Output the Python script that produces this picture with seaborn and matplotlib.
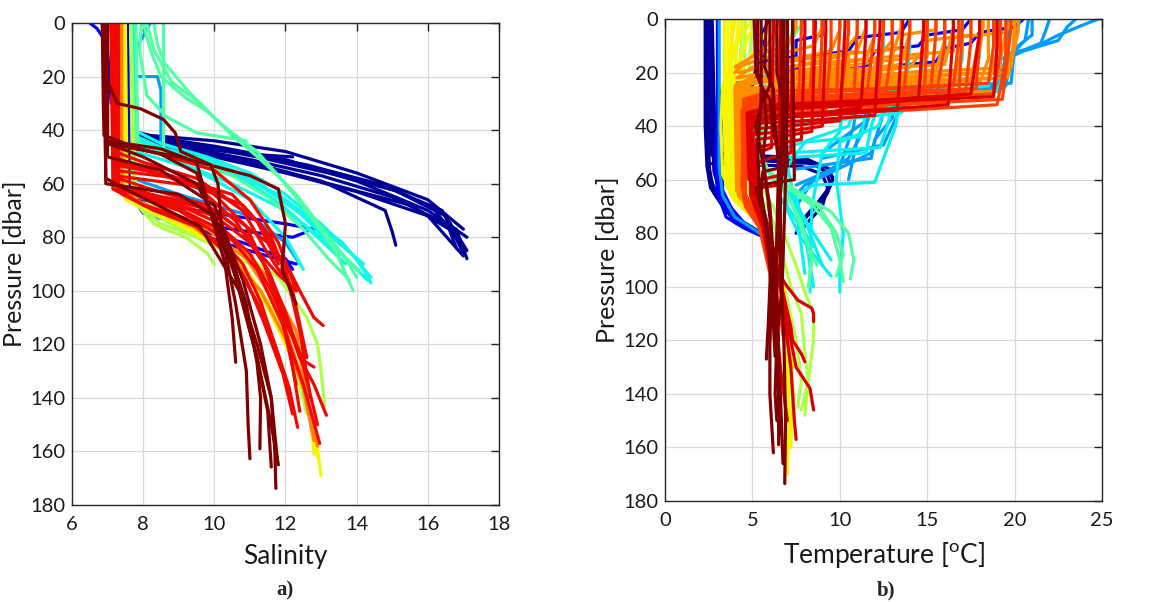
import matplotlib
matplotlib.use('Agg')
from matplotlib import pyplot as plt
import seaborn as sns
import pandas as pd

# ---------------- salinity profiles (salinity list, pressure list) ----------------
SAL_NAVY = [
    ([7.55, 7.6, 8.2, 10.0, 12.0, 14.0, 16.0, 17.0], [0, 40, 42, 44, 48, 56, 66, 77]),
    ([7.55, 7.6, 8.5, 10.0, 12.0, 14.0, 16.0, 17.1], [0, 41, 43, 46, 51, 59, 70, 80]),
    ([7.55, 7.6, 9.0, 11.0, 13.0, 15.0, 16.5, 17.1], [0, 42, 45, 49, 55, 62, 72, 85]),
    ([7.55, 7.6, 9.0, 11.0, 13.0, 15.0, 16.8, 17.1], [0, 42, 46, 51, 57, 65, 77, 88]),
    ([7.55, 7.6, 9.0, 11.0, 12.2], [0, 43, 46, 49, 50]),
    ([7.55, 7.6, 9.0, 11.0, 13.0, 14.8, 15.0, 15.1], [0, 43, 47, 52, 59, 70, 78, 83]),
    ([7.55, 7.6, 9.5, 11.5, 13.5, 15.5, 16.6, 16.8], [0, 44, 48, 54, 61, 68, 77, 84]),
    ([7.55, 7.6, 10.0, 12.0, 14.0, 16.0, 17.0], [0, 45, 50, 56, 63, 72, 87]),
    ([7.55, 7.6, 9.2, 11.2, 13.2, 15.2, 16.2, 16.9], [0, 42, 45, 50, 56, 63, 70, 82]),
    ([7.55, 7.6, 8.8, 10.6, 12.6, 14.6, 16.4, 17.0], [0, 41, 44, 48, 53, 60, 70, 86]),
]
SAL_BLUE = [
    ([7.55, 7.6, 8.0, 9.5, 11.0, 12.0, 12.8], [0, 60, 66, 70, 73, 75, 77]),
    ([7.55, 7.6, 8.2, 9.5, 11.0, 12.2, 12.6], [0, 62, 70, 75, 78, 80, 78]),
    ([7.55, 7.7, 8.2, 10.2, 11.5, 12.3], [0, 64, 70, 82, 87, 90]),
    ([7.5, 7.6, 8.0, 9.5, 10.8, 12.0, 12.2], [0, 63, 71, 77, 82, 88, 92]),
    ([6.5, 6.7, 6.85, 7.0, 7.1], [0, 2, 5, 10, 30]),
]
SAL_AZURE = [
    ([8.2, 7.75, 7.75, 8.4, 8.5, 8.5, 9.5], [0, 11, 20, 20, 25, 45, 50]),
    ([7.7, 7.7, 9.0, 11.0, 12.0, 12.4], [0, 58, 64, 72, 82, 90]),
]
SAL_CYAN = [
    ([7.7, 7.75, 8.5, 9.8, 11.0, 12.0, 13.0, 14.0, 14.4], [0, 40, 45, 50, 56, 64, 75, 88, 97]),
    ([7.7, 7.75, 8.6, 10.0, 11.2, 12.3, 13.3, 14.2], [0, 42, 47, 52, 60, 70, 80, 90]),
    ([7.7, 7.8, 9.0, 10.5, 11.8, 12.8, 13.6, 14.4], [0, 44, 50, 56, 64, 74, 82, 95]),
    ([7.7, 7.8, 9.0, 10.5, 12.0, 13.0, 13.5], [0, 45, 52, 60, 70, 80, 87]),
    ([7.7, 7.8, 9.5, 11.0, 12.0, 12.5], [0, 48, 55, 66, 80, 92]),
    ([7.75, 7.8, 8.8, 10.2, 11.4, 12.4, 13.4, 14.3], [0, 43, 48, 53, 61, 71, 84, 96]),
    ([7.75, 7.8, 9.3, 10.8, 11.9, 12.9, 13.7], [0, 46, 52, 58, 68, 80, 90]),
]
SAL_AQUA = [
    ([7.95, 7.9, 8.1, 8.65, 9.5, 10.9], [0, 10, 27, 35, 41, 44]),
    ([8.3, 8.4, 8.6, 9.3, 9.9, 10.3, 11.2, 12.0, 12.7, 13.5, 14.1], [0, 8, 15, 26, 34, 39, 48, 60, 72, 85, 93]),
    ([8.0, 8.2, 8.5, 9.2, 9.8, 10.8, 11.8, 12.6, 13.4, 13.9], [0, 10, 20, 28, 33, 45, 57, 70, 85, 100]),
    ([8.57, 8.57], [0, 48]),
    ([7.8, 7.85, 9.0, 10.5, 11.5, 12.5, 13.2, 13.8], [0, 45, 50, 57, 65, 77, 88, 96]),
    ([8.1, 8.3, 8.8, 9.6, 10.5, 11.4, 12.3, 13.1, 13.7, 14.0], [0, 10, 22, 30, 42, 52, 64, 78, 88, 95]),
]
SAL_GREEN = [
    ([7.65, 7.7, 8.3, 8.6, 9.2, 9.8, 10.0], [0, 66, 75, 77, 80, 86, 90]),
    ([7.65, 7.75, 8.5, 9.5, 10.8, 11.8, 12.6, 12.9, 13.0, 13.1], [0, 67, 75, 80, 86, 95, 110, 120, 130, 143]),
    ([7.65, 7.8, 9.5, 11.0, 11.8, 12.6], [0, 68, 80, 90, 105, 146]),
]
SAL_YELLOW = [
    ([7.45, 7.5, 8.5, 9.8, 10.8, 11.8, 12.4, 12.8, 13.0], [0, 65, 72, 80, 90, 110, 130, 150, 169]),
    ([7.45, 7.5, 8.4, 9.6, 10.6, 11.5, 12.2, 12.7, 12.8], [0, 64, 71, 78, 88, 105, 125, 145, 161]),
    ([7.45, 7.5, 8.8, 10.2, 11.2, 12.0, 12.5], [0, 66, 74, 84, 98, 120, 135]),
    ([7.5, 7.55, 8.3, 9.4, 10.4, 11.3, 12.0, 12.6, 12.9], [0, 65, 70, 77, 86, 100, 118, 138, 162]),
]
SAL_ORANGE = [
    ([7.35, 7.4, 8.5, 9.8, 10.9, 11.8, 12.4, 12.8], [0, 64, 70, 77, 88, 106, 130, 156]),
    ([7.35, 7.4, 9.0, 10.5, 11.5, 12.3, 12.6], [0, 63, 70, 80, 95, 115, 140]),
    ([7.4, 7.4, 8.2, 9.4, 10.4, 11.3, 12.0, 12.6, 12.9], [0, 64, 69, 76, 86, 100, 118, 140, 158]),
]
SAL_RED = [
    ([7.3, 7.3, 8.5, 10.0, 11.0, 11.8, 12.3], [0, 62, 66, 72, 82, 94, 100]),
    ([7.25, 7.25, 9.0, 10.5, 11.5, 12.1, 12.4, 12.8, 13.06], [0, 62, 66, 72, 82, 92, 100, 110, 113]),
    ([7.2, 7.25, 8.0, 10.0, 11.0, 11.6, 12.0, 12.4, 12.8, 13.15], [0, 61, 64, 70, 80, 95, 110, 125, 135, 146.5]),
    ([7.15, 7.2, 8.5, 10.0, 11.0, 11.6, 12.0, 12.3, 12.5, 12.8], [0, 60, 65, 74, 86, 100, 112, 120, 126, 128.5]),
    ([7.1, 7.15, 8.3, 9.5, 10.5, 11.2, 11.7, 12.1, 12.34], [0, 62, 70, 76, 88, 104, 120, 136, 151]),
    ([7.2, 7.25, 8.8, 10.3, 11.2, 11.9, 12.5, 12.96], [0, 61, 68, 78, 92, 112, 135, 157]),
    ([7.15, 7.2, 8.0, 9.5, 10.8, 11.5, 12.2], [0, 48, 52, 58, 70, 86, 100]),
    ([7.15, 7.2, 8.5, 10.0, 11.0, 11.8, 12.3], [0, 45, 49, 55, 66, 82, 100]),
    ([7.1, 7.2, 9.0, 10.5, 11.2, 11.8], [0, 55, 58, 64, 74, 90]),
    ([7.2, 7.25, 8.0, 9.2, 10.3, 10.9, 11.4, 11.9], [0, 62, 68, 73, 84, 96, 112, 130]),
    ([7.3, 7.3, 8.6, 10.2, 11.3, 12.0, 12.4, 12.7], [0, 52, 57, 64, 75, 92, 115, 140]),
    ([7.25, 7.3, 8.2, 9.8, 10.8, 11.5, 12.0, 12.5, 12.9], [0, 58, 62, 68, 78, 92, 108, 128, 150]),
    ([7.1, 7.15, 8.0, 9.6, 10.6, 11.4, 11.9, 12.3], [0, 50, 54, 62, 74, 90, 110, 135]),
    ([7.2, 7.2, 9.5, 10.8, 11.6, 12.2, 12.6], [0, 57, 61, 68, 80, 100, 125]),
    ([7.15, 7.2, 8.8, 10.0, 10.9, 11.6, 12.1, 12.4], [0, 53, 57, 64, 76, 96, 120, 145]),
    ([7.3, 7.3, 7.8, 9.0, 10.0, 10.8, 11.3, 11.8, 12.2], [0, 62, 64, 70, 78, 90, 104, 124, 146]),
]
SAL_DARKRED = [
    ([6.85, 6.94, 7.27, 7.92, 8.57, 8.9, 9.06, 9.9, 10.1, 10.2, 10.5, 10.8, 11.2, 11.6, 11.8],
     [0, 20, 30, 32, 36, 41, 48, 53, 60, 75, 90, 105, 125, 150, 165]),
    ([6.85, 6.88, 6.9, 7.5, 8.5, 9.5, 10.3, 10.5, 10.6], [0, 30, 42, 45, 47, 52, 90, 110, 126.7]),
    ([6.9, 6.95, 7.0, 8.5, 9.5, 10.3, 10.6, 10.9, 10.95, 11.0], [0, 40, 44, 49, 56, 85, 105, 130, 150, 162.7]),
    ([6.95, 7.0, 8.0, 9.5, 10.3, 10.9, 11.2, 11.3, 11.28], [0, 45, 50, 60, 80, 105, 127, 140, 159]),
    ([6.95, 7.0, 8.5, 10.0, 10.8, 11.3, 11.6, 11.7, 11.73], [0, 50, 55, 68, 96, 120, 140, 160, 173.8]),
    ([6.9, 6.95, 7.5, 9.6, 10.7, 11.2, 11.5, 11.6], [0, 58, 62, 76, 100, 125, 145, 165.8]),
    ([6.9, 6.95, 9.0, 10.0, 10.6, 11.2, 11.6, 11.77], [0, 60, 64, 72, 95, 120, 140, 163]),
    ([7.0, 7.0, 9.0, 11.0, 11.8, 12.0, 11.9, 12.3], [0, 45, 50, 57, 62, 75, 92, 105]),
]

# ---------------- temperature profiles (temperature list, pressure list) ----------------
TMP_NAVY = [
    ([2.3, 2.3, 2.4, 2.6, 3.5, 5.0, 5.5], [0, 40, 55, 63, 72, 78, 80]),
    ([2.5, 2.5, 2.6, 8.0, 9.4, 9.6, 9.2, 8.5, 7.8, 7.5], [0, 30, 50, 52, 56, 60, 66, 71, 76, 80]),
    ([2.6, 2.6, 2.7, 8.2, 9.2, 9.5, 8.8, 8.0, 7.6], [0, 35, 51, 53, 57, 62, 68, 74, 79]),
    ([2.4, 2.4, 2.5, 7.8, 9.0, 9.3, 9.0, 8.3, 7.9], [0, 45, 54, 55, 58, 63, 70, 75, 78]),
    ([2.7, 2.8, 2.9, 8.5, 9.6, 9.3, 8.6, 8.2], [0, 30, 52, 54, 59, 65, 70, 73]),
    ([2.35, 2.4, 2.5, 3.0, 4.0, 5.3], [0, 30, 58, 66, 74, 79]),
    ([2.45, 2.45, 2.55, 2.8, 3.8, 5.2], [0, 40, 56, 65, 74, 80]),
    ([2.65, 2.7, 2.8, 3.2, 4.5, 5.5], [0, 40, 57, 66, 76, 81]),
]
TMP_BLUE = [
    ([9.0, 9.0, 7.5, 7.5, 5.5, 5.5, 3.0, 2.9, 3.0, 3.5, 4.5, 5.5], [0, 6, 8, 14, 16, 22, 28, 55, 65, 74, 78, 81]),
    ([14.0, 13.5, 11.0, 10.5, 8.0, 7.5, 4.0, 3.0, 3.1, 4.0, 5.2], [0, 5, 7, 12, 14, 19, 24, 30, 62, 76, 79]),
    ([17.5, 17.0, 15.0, 14.5, 12.0, 11.5, 6.0, 3.2, 3.1, 3.3, 4.5, 5.8], [0, 4, 6, 10, 12, 18, 22, 27, 60, 70, 77, 82]),
    ([20.5, 20.0, 18.0, 17.5, 16.0, 15.5, 9.0, 3.2, 3.3, 4.2], [0, 3, 5, 9, 11, 16, 20, 30, 64, 76]),
    ([6.0, 5.5, 5.8, 5.2, 5.0, 4.0, 3.0, 3.0], [0, 6, 12, 18, 25, 30, 35, 60]),
    ([3.0, 3.0, 3.1, 3.6, 4.8, 5.6], [0, 50, 62, 70, 78, 81]),
]
TMP_AZURE = [
    ([24.8, 24.0, 22.5, 21.0, 19.5, 19.3, 19.0, 15.0, 12.0, 11.5, 10.5, 8.5, 7.5],
     [0, 2, 6, 11, 13, 20, 27, 28, 29, 40, 52, 60, 70]),
    ([23.5, 23.0, 22.5, 20.5, 19.5, 19.2, 18.5, 13.0, 12.5, 11.8, 8.0, 7.2],
     [0, 3, 8, 12, 15, 22, 27.5, 29, 35, 50, 62, 68]),
    ([22.0, 21.8, 21.5, 20.0, 19.2, 19.0, 14.0, 13.2, 13.0, 12.0, 11.8, 7.5],
     [0, 4, 9, 13, 15, 26, 28, 30, 37, 45, 52, 56]),
    ([21.0, 21.0, 20.2, 19.8, 19.5, 17.0, 12.0, 11.0, 10.5], [0, 6, 10, 14, 25, 27, 30, 45, 60]),
    ([20.8, 20.6, 20.0, 19.7, 18.5, 15.0, 13.5, 12.5, 9.0], [0, 8, 12, 18, 26, 28, 33, 47, 52]),
    ([19.6, 19.6, 19.4, 11.0, 10.8, 10.0, 7.5], [0, 12, 26, 27, 40, 55, 62]),
    ([20.3, 20.0, 19.8, 12.0, 11.5, 9.0], [0, 10, 24, 25.5, 38, 50]),
    ([3.1, 3.1, 3.3, 4.0, 5.2, 5.8], [0, 55, 66, 74, 79, 82]),
]
TMP_CYAN = [
    ([19.0, 18.8, 18.5, 14.0, 13.4, 13.2, 12.5, 12.0, 8.5, 7.5, 8.0, 8.5], [0, 10, 25, 28, 31, 40, 52, 61, 62, 66, 80, 100]),
    ([17.0, 17.0, 16.5, 13.0, 12.6, 12.2, 10.0, 9.8, 10.2, 10.0, 10.0], [0, 15, 26, 29, 33, 40, 46, 60, 80, 95, 102]),
    ([16.0, 16.0, 15.5, 11.0, 10.2, 10.0, 9.0, 8.4, 8.3, 8.3], [0, 12, 24, 27, 32, 42, 50, 70, 92, 102]),
    ([18.0, 18.0, 17.5, 12.5, 11.5, 11.2, 8.0, 7.0, 7.5, 8.0], [0, 14, 27, 30, 35, 44, 46, 55, 70, 95]),
    ([15.0, 15.0, 14.5, 12.0, 10.8, 10.5, 7.0, 6.8, 8.0, 9.0], [0, 10, 25, 28, 33, 40, 48, 60, 75, 92]),
    ([19.5, 19.5, 19.0, 14.5, 13.5, 9.5, 6.5, 6.5, 7.8, 9.0, 9.5], [0, 18, 27, 29, 35, 38, 40, 65, 82, 92, 96]),
    ([14.0, 14.0, 13.8, 13.0, 12.8, 12.3, 7.0, 6.8, 8.5, 9.5], [0, 10, 28, 30, 38, 48, 50, 62, 80, 90]),
    ([12.5, 12.5, 12.3, 11.8, 11.5, 6.5, 7.0, 8.5], [0, 10, 30, 40, 50, 52, 70, 85]),
]
TMP_AQUA = [
    ([7.5, 7.0, 6.5, 6.0, 5.5, 5.5, 6.0, 6.5, 8.0, 9.5, 10.5, 10.8, 10.6], [0, 10, 18, 30, 45, 52, 58, 62, 66, 72, 80, 90, 97]),
    ([8.0, 7.2, 6.8, 6.2, 5.2, 5.0, 6.0, 7.0, 8.5, 9.5, 10.0, 10.2], [0, 8, 15, 25, 40, 50, 57, 63, 70, 78, 90, 98]),
    ([6.8, 6.4, 6.0, 5.8, 5.2, 5.5, 6.5, 7.2, 7.8, 8.2, 8.7], [0, 12, 20, 35, 48, 54, 60, 68, 78, 85, 92]),
    ([7.0, 6.5, 6.2, 5.6, 5.3, 6.0, 7.5, 8.8, 9.8, 10.2, 9.8], [0, 14, 22, 38, 50, 58, 64, 70, 80, 88, 96]),
    ([6.5, 6.2, 5.8, 5.4, 5.4, 6.2, 7.0, 7.8, 8.4, 8.2], [0, 10, 20, 35, 50, 60, 66, 76, 90, 100]),
]
TMP_GREEN = [
    ([5.0, 4.8, 4.6, 5.2, 6.2, 6.8, 7.5, 8.0, 8.5, 8.5, 8.3, 8.0], [0, 20, 50, 60, 70, 80, 92, 102, 110, 120, 130, 148]),
    ([4.6, 4.5, 4.4, 5.0, 6.0, 6.6, 7.2, 7.8, 8.0, 8.2, 7.8], [0, 25, 55, 62, 72, 85, 100, 110, 125, 135, 146]),
    ([4.4, 4.3, 4.3, 4.8, 5.8, 6.5, 7.0, 7.5, 7.8, 7.6], [0, 20, 55, 65, 75, 90, 105, 120, 135, 145]),
]
TMP_YELLOW = [
    ([4.5, 4.0, 3.3, 3.2, 3.3, 3.8, 4.8, 5.8, 6.4, 6.8, 7.0, 7.1, 7.0], [0, 10, 25, 40, 58, 66, 72, 78, 90, 110, 130, 150, 170]),
    ([5.0, 4.2, 3.5, 3.5, 3.6, 4.2, 5.2, 6.0, 6.6, 7.0, 7.3, 7.2], [0, 8, 22, 40, 60, 67, 74, 80, 95, 115, 140, 160]),
    ([3.8, 3.8, 3.9, 4.5, 5.5, 6.2, 6.8, 7.2, 7.4], [0, 40, 62, 68, 75, 82, 100, 125, 150]),
    ([6.2, 5.5, 4.5, 4.0, 4.1, 4.6, 5.6, 6.3, 6.9, 7.3], [0, 8, 18, 30, 63, 69, 76, 84, 105, 130]),
    ([3.4, 3.4, 3.5, 4.0, 5.0, 5.9, 6.5, 7.0], [0, 30, 62, 68, 74, 80, 95, 120]),
    ([4.0, 3.7, 3.7, 3.8, 4.4, 5.4, 6.1, 6.7, 7.1], [0, 15, 40, 64, 70, 76, 82, 100, 140]),
    ([5.5, 4.8, 4.0, 3.9, 4.0, 4.6, 5.6, 6.3], [0, 6, 20, 40, 64, 70, 78, 90]),
    ([3.6, 3.6, 3.7, 4.3, 5.3, 6.1, 6.8], [0, 30, 63, 69, 75, 82, 110]),
    ([4.2, 4.0, 4.0, 4.1, 4.7, 5.7, 6.4], [0, 20, 40, 65, 71, 78, 95]),
]
TMP_ORANGE = [
    ([20.0, 20.0, 19.5, 12.0, 6.0, 4.3, 4.3, 5.0, 6.0, 6.6, 7.2], [0, 10, 20, 22, 25, 28, 65, 72, 80, 100, 130]),
    ([18.5, 18.5, 18.0, 9.0, 4.2, 4.1, 4.9, 5.9, 6.5], [0, 15, 24, 27, 30, 64, 72, 80, 100]),
    ([17.0, 17.0, 16.5, 8.0, 4.3, 4.2, 5.1, 6.0], [0, 12, 21, 25, 29, 66, 73, 82]),
    ([15.0, 15.0, 14.0, 7.0, 4.3, 4.3, 5.2, 6.1], [0, 10, 18, 23, 28, 65, 74, 84]),
    ([13.0, 13.0, 12.0, 6.0, 4.0, 4.1], [0, 8, 16, 22, 26, 64]),
    ([11.0, 11.0, 10.0, 5.5, 4.0], [0, 6, 14, 20, 25]),
    ([19.8, 19.5, 19.2, 18.8, 15.0, 10.0, 5.0, 4.3], [0, 5, 15, 27, 28, 29, 31, 36]),
    ([19.0, 19.0, 18.6, 10.0, 4.4, 4.3, 5.0, 6.0], [0, 12, 22, 24, 27, 63, 72, 84]),
    ([16.0, 16.0, 15.5, 9.0, 4.2, 4.2, 5.1], [0, 8, 19, 23, 27, 64, 74]),
    ([14.0, 14.0, 13.5, 8.0, 4.2, 4.2], [0, 5, 17, 21, 25, 62]),
    ([12.0, 12.0, 11.5, 7.0, 4.1, 4.2], [0, 6, 15, 20, 24, 60]),
    ([18.0, 18.0, 17.5, 11.0, 4.4, 4.3, 5.2, 6.2], [0, 6, 23, 25, 28, 66, 75, 90]),
    ([20.2, 20.2, 19.6, 13.0, 5.0, 4.3], [0, 5, 22, 24, 27, 60]),
    ([10.0, 10.0, 9.5, 5.0, 4.1], [0, 4, 12, 18, 22]),
    ([17.5, 17.5, 15.0, 15.0, 12.0, 12.0, 4.3], [0, 6, 8, 14, 16, 24, 28]),
    ([19.5, 19.5, 16.5, 16.5, 13.0, 13.0, 4.4], [0, 5, 7, 12, 14, 22, 26]),
    ([15.5, 15.5, 13.5, 13.5, 10.5, 10.5, 4.2], [0, 4, 6, 11, 13, 20, 24]),
    ([20.0, 20.0, 19.8, 14.0, 4.4, 4.3], [0, 3, 18, 20, 24, 60]),
    ([18.2, 18.2, 17.8, 12.0, 4.4], [0, 3, 20, 22, 26]),
    ([16.5, 16.5, 16.0, 10.0, 4.3], [0, 3, 17, 19, 24]),
    ([13.5, 13.5, 13.0, 8.0, 4.2], [0, 3, 14, 17, 22]),
    ([11.5, 11.5, 11.0, 7.0, 4.2], [0, 3, 12, 16, 20]),
    ([9.0, 9.0, 8.5, 6.0, 4.1], [0, 3, 10, 14, 18]),
    ([7.5, 7.5, 7.0, 5.0, 4.0], [0, 3, 10, 14, 18]),
    ([6.5, 6.3, 5.8, 4.8, 4.0], [0, 5, 10, 15, 20]),
]
TMP_REDORANGE = [
    ([19.5, 19.5, 19.0, 14.0, 8.0, 4.5, 4.4, 4.6, 5.4, 6.0, 6.4], [0, 15, 32, 34, 35, 37, 62, 70, 78, 95, 120]),
    ([18.8, 18.8, 18.5, 12.0, 6.0, 4.5, 4.5, 5.5, 6.3], [0, 10, 24, 26, 27, 30, 66, 78, 100]),
    ([17.5, 17.5, 17.2, 10.0, 5.0, 4.4, 4.5, 5.5, 6.2, 6.8], [0, 8, 27, 29, 31, 34, 67, 78, 95, 120]),
    ([16.0, 16.0, 15.5, 12.0, 6.0, 4.6, 4.6, 5.6], [0, 10, 29, 31, 33, 36, 68, 78]),
    ([14.8, 14.8, 14.5, 10.0, 5.0, 4.5, 4.6, 5.7, 6.4], [0, 6, 28, 30, 32, 35, 66, 79, 110]),
    ([13.0, 13.0, 12.5, 9.0, 5.0, 4.7], [0, 10, 33, 35, 36, 40]),
    ([12.0, 12.0, 11.5, 8.0, 5.0, 4.6], [0, 5, 30, 33, 35, 38]),
    ([10.5, 10.5, 10.0, 7.0, 4.8, 4.6], [0, 5, 32, 34, 36, 40]),
    ([9.5, 9.5, 9.2, 6.5, 4.6, 4.5], [0, 10, 34, 36, 38, 42]),
    ([8.5, 8.5, 8.2, 6.0, 4.8, 4.6], [0, 10, 35, 37, 38, 42]),
    ([18.0, 18.0, 17.8, 11.0, 5.0, 4.5, 4.5, 5.6], [0, 8, 26, 28, 30, 33, 64, 78]),
    ([15.5, 15.5, 15.2, 9.0, 4.8, 4.5, 4.6], [0, 5, 27, 29, 31, 34, 66]),
    ([14.0, 14.0, 13.6, 8.0, 4.7, 4.5, 4.6], [0, 5, 31, 33, 35, 38, 67]),
    ([11.0, 11.0, 10.8, 7.0, 4.7, 4.6], [0, 3, 31, 34, 36, 40]),
    ([9.0, 9.0, 8.8, 6.0, 4.7, 4.6], [0, 4, 33, 35, 37, 60]),
    ([7.8, 7.8, 7.6, 5.5, 4.7, 4.6], [0, 4, 36, 38, 40, 62]),
    ([19.2, 19.2, 18.8, 12.0, 5.0, 4.5, 4.6], [0, 12, 28, 30, 32, 35, 62]),
    ([16.8, 16.8, 16.5, 10.0, 5.0, 4.5], [0, 8, 25, 27, 29, 32]),
    ([19.8, 19.8, 19.3, 13.0, 5.0, 4.5], [0, 3, 30, 32, 34, 36]),
    ([17.0, 17.0, 16.8, 10.0, 4.8, 4.5], [0, 3, 30, 32, 34, 37]),
    ([15.0, 15.0, 14.8, 9.0, 4.7, 4.5], [0, 3, 33, 35, 37, 40]),
    ([12.5, 12.5, 12.2, 8.0, 4.7], [0, 3, 29, 31, 34]),
    ([10.0, 10.0, 9.8, 6.5, 4.6], [0, 3, 29, 31, 34]),
]
TMP_RED = [
    ([18.0, 18.0, 17.5, 13.0, 6.0, 4.8, 4.9, 5.6, 6.2, 6.6, 7.0], [0, 5, 28, 30, 32, 36, 66, 78, 100, 130, 150]),
    ([14.8, 14.8, 14.5, 11.0, 6.0, 4.9, 5.0, 5.8, 6.5], [0, 3, 30, 32, 34, 37, 64, 78, 110]),
    ([11.5, 11.5, 11.2, 8.0, 5.0, 4.9, 5.2, 6.0], [0, 5, 33, 36, 38, 40, 70, 80]),
    ([9.2, 9.2, 9.0, 7.0, 5.0, 5.0], [0, 5, 40, 42, 43, 60]),
    ([8.0, 8.0, 7.8, 6.0, 5.2, 5.2, 5.8, 6.6, 7.2, 7.5, 8.3, 8.5], [0, 5, 45, 47, 48, 64, 80, 100, 120, 130, 138, 146]),
    ([7.3, 7.3, 7.2, 6.0, 5.2, 5.3, 6.0, 6.5, 7.0, 7.6, 8.4, 8.5, 8.5], [0, 5, 50, 52, 54, 65, 80, 95, 100, 105, 108, 110, 113]),
    ([6.6, 6.6, 6.5, 5.5, 5.3, 5.8, 6.5, 7.2, 7.3, 7.8, 8.0], [0, 5, 62, 63, 64, 75, 95, 115, 120, 125, 128]),
    ([19.0, 19.0, 18.8, 12.0, 6.0, 4.7, 4.8], [0, 10, 29, 31, 33, 35, 60]),
    ([7.0, 7.0, 6.8, 5.5, 5.2, 5.8, 6.6, 7.2, 7.4, 7.5], [0, 5, 58, 60, 62, 78, 100, 130, 150, 157]),
    ([16.5, 16.5, 16.2, 12.0, 6.0, 4.9, 5.0], [0, 4, 32, 34, 36, 38, 66]),
    ([13.6, 13.6, 13.3, 9.0, 5.5, 4.9, 5.0], [0, 3, 34, 36, 37, 40, 66]),
    ([12.3, 12.3, 12.0, 8.0, 5.2, 4.9], [0, 3, 36, 38, 39, 42]),
    ([10.3, 10.3, 10.0, 7.0, 5.2, 5.0], [0, 3, 38, 40, 41, 45]),
    ([8.6, 8.6, 8.4, 6.5, 5.2, 5.1], [0, 3, 42, 44, 45, 60]),
    ([6.2, 6.2, 6.1, 5.3, 5.2, 5.6, 6.2], [0, 3, 48, 50, 52, 75, 100]),
]
TMP_DARKRED = [
    ([5.3, 5.3, 5.5, 6.0, 6.2, 6.5, 6.6, 6.6, 6.3, 6.0, 6.0, 6.2], [0, 20, 25, 30, 42, 50, 58, 70, 90, 110, 140, 162]),
    ([6.8, 6.8, 6.8, 6.6, 6.4, 6.4, 6.5, 6.5], [0, 30, 50, 65, 90, 120, 145, 159]),
    ([6.7, 6.7, 6.6, 6.6, 6.8, 6.9, 6.85], [0, 40, 60, 90, 120, 150, 173.5]),
    ([5.1, 5.2, 5.7, 5.8, 5.6, 5.8, 6.1, 6.0, 5.9, 5.8], [0, 20, 28, 40, 52, 62, 80, 100, 115, 127]),
    ([6.0, 6.0, 5.6, 5.2, 5.5, 6.0, 6.3, 6.6, 6.75], [0, 25, 30, 40, 50, 70, 100, 140, 166]),
    ([5.8, 5.7, 6.2, 6.3, 6.5, 6.4, 6.3, 6.5, 6.6], [0, 18, 26, 40, 55, 80, 110, 140, 155]),
    ([7.3, 7.3, 7.4, 5.4, 5.2, 5.5, 6.2, 6.5], [0, 10, 60, 62, 63, 70, 90, 120]),
    ([7.0, 7.0, 6.9, 6.8, 6.7, 6.4, 6.3, 6.4], [0, 30, 60, 80, 100, 120, 140, 150]),
    ([6.4, 6.4, 6.9, 7.0, 5.6, 5.5, 6.0, 6.3], [0, 20, 35, 55, 57, 65, 90, 126]),
    ([5.5, 5.5, 5.3, 5.4, 5.9, 6.1, 6.0], [0, 30, 50, 62, 80, 100, 120]),
]

# colour position (jet scale) for each group
SAL_GROUPS = [(0.02, SAL_NAVY), (0.11, SAL_BLUE), (0.28, SAL_AZURE), (0.37, SAL_CYAN),
              (0.45, SAL_AQUA), (0.56, SAL_GREEN), (0.65, SAL_YELLOW), (0.77, SAL_ORANGE),
              (0.9, SAL_RED), (1.0, SAL_DARKRED)]
TMP_GROUPS = [(0.02, TMP_NAVY), (0.11, TMP_BLUE), (0.28, TMP_AZURE), (0.36, TMP_CYAN),
              (0.45, TMP_AQUA), (0.56, TMP_GREEN), (0.65, TMP_YELLOW), (0.76, TMP_ORANGE),
              (0.84, TMP_REDORANGE), (0.92, TMP_RED), (1.0, TMP_DARKRED)]


def to_frame(groups, col):
    rows = []
    cast = 0
    for c, profiles in groups:
        for xs, ps in profiles:
            for x, p in zip(xs, ps):
                rows.append((cast, c, x, p))
            cast += 1
    return pd.DataFrame(rows, columns=['cast', 'c', col, 'Pressure'])


sns.set_theme(style='white')
plt.rcParams['font.family'] = ['Lato', 'DejaVu Sans']
plt.rcParams['mathtext.fontset'] = 'custom'
plt.rcParams['mathtext.rm'] = 'Lato'

jet = matplotlib.colormaps['jet']

fig = plt.figure(figsize=(11.67, 6.02), dpi=100)
ax1 = fig.add_axes([72 / 1167, 1 - 505 / 602, 427 / 1167, 482 / 602])
ax2 = fig.add_axes([665 / 1167, 1 - 501 / 602, 437 / 1167, 482 / 602])

panels = [
    (ax1, to_frame(SAL_GROUPS, 'Salinity'), 'Salinity', 'Salinity', (6, 18), range(6, 19, 2)),
    (ax2, to_frame(TMP_GROUPS, 'Temperature'), 'Temperature', r'Temperature [$^{\mathrm{o}}$C]',
     (0, 25), range(0, 26, 5)),
]

for ax, df, col, xlabel, xlim, xticks in panels:
    sns.lineplot(data=df, x=col, y='Pressure', hue='c', units='cast', estimator=None,
                 sort=False, palette=jet, hue_norm=(0, 1), legend=False,
                 linewidth=2.3, ax=ax)
    ax.set_xlim(*xlim)
    ax.set_ylim(180, 0)
    ax.set_xticks(list(xticks))
    ax.set_yticks(range(0, 181, 20))
    ax.grid(True, color='#d9d9d9', linewidth=0.9)
    ax.set_axisbelow(True)
    ax.tick_params(direction='in', length=6, width=1, top=True, right=True,
                   color='#262626', labelsize=14.5, labelcolor='#1a1a1a', pad=5)
    ax.tick_params(axis='x', pad=8)
    for s in ax.spines.values():
        s.set_color('#262626')
        s.set_linewidth(1.0)
    ax.set_xlabel(xlabel, fontsize=19, color='#1a1a1a', labelpad=8)
    ax.set_ylabel('Pressure [dbar]', fontsize=18, color='#1a1a1a', labelpad=3)

fig.text(285 / 1167, 1 - 590 / 602, 'a)', ha='center', va='center', fontsize=15,
         fontweight='bold', family='Liberation Serif')
fig.text(886 / 1167, 1 - 590 / 602, 'b)', ha='center', va='center', fontsize=15,
         fontweight='bold', family='Liberation Serif')

fig.savefig('out.png', dpi=100)
